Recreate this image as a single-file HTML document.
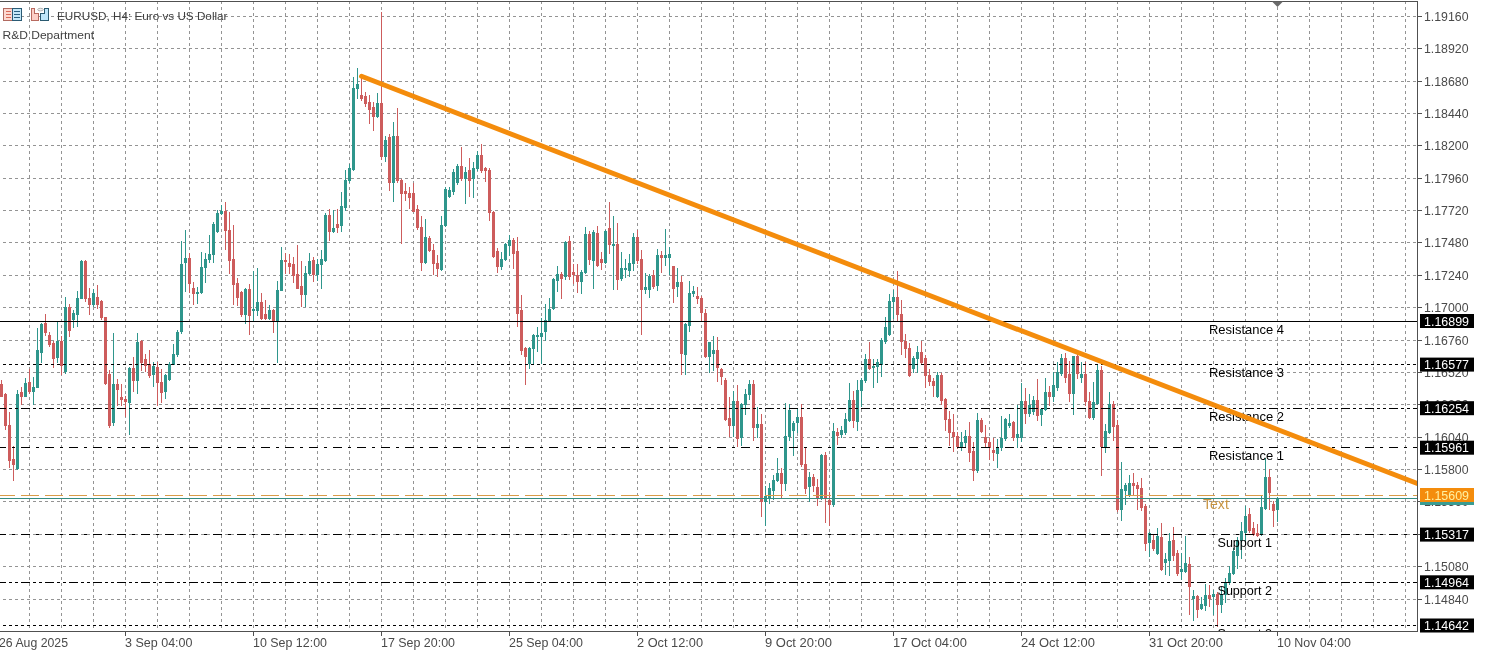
<!DOCTYPE html><html><head><meta charset="utf-8"><style>
html,body{margin:0;padding:0;background:#fff;width:1487px;height:650px;overflow:hidden}
svg{display:block;will-change:transform}
text{font-family:"Liberation Sans",sans-serif}
</style></head><body>
<svg width="1487" height="650" viewBox="0 0 1487 650">
<rect x="0" y="0" width="1487" height="650" fill="#fff"/>

<path d="M29.5 1V631 M61.5 1V631 M93.5 1V631 M125.5 1V631 M157.5 1V631 M189.5 1V631 M221.5 1V631 M253.5 1V631 M285.5 1V631 M317.5 1V631 M349.5 1V631 M381.5 1V631 M413.5 1V631 M445.5 1V631 M477.5 1V631 M509.5 1V631 M541.5 1V631 M573.5 1V631 M605.5 1V631 M637.5 1V631 M669.5 1V631 M701.5 1V631 M733.5 1V631 M765.5 1V631 M797.5 1V631 M829.5 1V631 M861.5 1V631 M893.5 1V631 M925.5 1V631 M957.5 1V631 M989.5 1V631 M1021.5 1V631 M1053.5 1V631 M1085.5 1V631 M1117.5 1V631 M1149.5 1V631 M1181.5 1V631 M1213.5 1V631 M1245.5 1V631 M1277.5 1V631 M1309.5 1V631 M1341.5 1V631 M1373.5 1V631 M1405.5 1V631" stroke="#949494" stroke-width="1" stroke-dasharray="3 3" fill="none" shape-rendering="crispEdges"/>
<path d="M0 16.5H1417 M0 48.5H1417 M0 81.5H1417 M0 113.5H1417 M0 145.5H1417 M0 178.5H1417 M0 210.5H1417 M0 242.5H1417 M0 275.5H1417 M0 307.5H1417 M0 340.5H1417 M0 372.5H1417 M0 404.5H1417 M0 437.5H1417 M0 469.5H1417 M0 501.5H1417 M0 534.5H1417 M0 566.5H1417 M0 599.5H1417" stroke="#949494" stroke-width="1" stroke-dasharray="3 3" stroke-dashoffset="3" fill="none" shape-rendering="crispEdges"/>
<path d="M17.5 390V470 M25.5 378V397 M33.5 377V405 M37.5 328V388 M41.5 323V363 M57.5 322V363 M65.5 297V374 M73.5 310V328 M77.5 291V327 M81.5 260V299 M93.5 289V307 M113.5 333V426 M129.5 367V435 M137.5 333V394 M153.5 362V387 M165.5 374V399 M169.5 362V381 M173.5 344V365 M177.5 330V357 M181.5 241V334 M185.5 230V292 M197.5 287V304 M201.5 252V294 M205.5 253V283 M209.5 235V263 M213.5 222V263 M217.5 210V233 M221.5 205V215 M245.5 288V324 M253.5 271V322 M257.5 268V316 M269.5 305V320 M277.5 281V363 M281.5 247V291 M305.5 266V307 M309.5 253V275 M317.5 259V281 M321.5 250V289 M325.5 213V262 M333.5 210V233 M341.5 192V232 M345.5 170V211 M349.5 164V183 M353.5 77V171 M357.5 68V99 M377.5 93V118 M385.5 136V162 M393.5 122V202 M425.5 219V264 M441.5 216V271 M445.5 187V227 M449.5 187V198 M453.5 169V195 M457.5 164V185 M465.5 167V204 M473.5 162V198 M477.5 151V171 M501.5 252V270 M505.5 243V261 M509.5 235V256 M529.5 347V369 M533.5 334V365 M537.5 327V352 M541.5 318V364 M545.5 304V341 M549.5 298V322 M553.5 278V310 M557.5 266V292 M565.5 241V280 M581.5 270V294 M585.5 227V274 M593.5 230V289 M605.5 230V264 M613.5 216V290 M621.5 252V281 M625.5 259V278 M629.5 254V277 M633.5 233V271 M645.5 273V294 M649.5 274V298 M657.5 249V291 M665.5 229V266 M669.5 247V275 M677.5 268V297 M685.5 323V375 M689.5 281V332 M693.5 286V297 M709.5 342V373 M713.5 336V371 M733.5 391V437 M741.5 403V446 M745.5 389V415 M749.5 380V400 M757.5 407V438 M765.5 486V526 M769.5 483V504 M773.5 475V500 M777.5 458V482 M785.5 403V491 M789.5 404V441 M793.5 421V456 M797.5 409V433 M809.5 472V502 M821.5 454V500 M833.5 423V507 M841.5 426V438 M845.5 413V435 M849.5 383V422 M857.5 380V431 M861.5 378V407 M865.5 354V383 M873.5 359V388 M877.5 359V383 M881.5 338V377 M885.5 317V344 M889.5 294V336 M893.5 290V319 M913.5 356V373 M917.5 346V373 M937.5 372V398 M961.5 432V451 M965.5 430V448 M977.5 413V473 M997.5 439V468 M1001.5 416V451 M1005.5 418V441 M1009.5 414V428 M1017.5 405V448 M1021.5 383V442 M1029.5 394V417 M1033.5 396V415 M1041.5 408V426 M1045.5 378V411 M1053.5 372V402 M1057.5 362V391 M1061.5 354V376 M1073.5 356V415 M1081.5 362V383 M1093.5 382V420 M1097.5 364V405 M1105.5 424V453 M1109.5 392V434 M1121.5 462V521 M1125.5 483V505 M1129.5 475V497 M1149.5 532V557 M1157.5 528V555 M1165.5 553V575 M1169.5 533V576 M1181.5 553V580 M1185.5 536V573 M1193.5 590V621 M1201.5 597V610 M1205.5 584V611 M1213.5 590V615 M1221.5 587V613 M1225.5 578V603 M1229.5 566V585 M1233.5 548V575 M1237.5 537V569 M1241.5 522V559 M1245.5 506V541 M1261.5 495V536 M1265.5 458V510 M1277.5 497V522" stroke="#2f968c" stroke-width="1" fill="none" shape-rendering="crispEdges"/>
<path d="M16 394h3v75h-3z M24 383h3v14h-3z M32 387h3v5h-3z M36 350h3v38h-3z M40 324h3v29h-3z M56 341h3v17h-3z M64 307h3v65h-3z M72 313h3v7h-3z M76 298h3v17h-3z M80 261h3v38h-3z M92 293h3v12h-3z M112 384h3v39h-3z M128 368h3v35h-3z M136 342h3v39h-3z M152 366h3v9h-3z M164 375h3v17h-3z M168 364h3v16h-3z M172 354h3v11h-3z M176 332h3v23h-3z M180 264h3v68h-3z M184 258h3v5h-3z M196 292h3v2h-3z M200 267h3v26h-3z M204 259h3v9h-3z M208 254h3v6h-3z M212 224h3v31h-3z M216 213h3v19h-3z M220 211h3v3h-3z M244 289h3v26h-3z M252 309h3v2h-3z M256 302h3v9h-3z M268 310h3v9h-3z M276 290h3v32h-3z M280 260h3v31h-3z M304 273h3v22h-3z M308 261h3v13h-3z M316 264h3v11h-3z M320 259h3v6h-3z M324 215h3v46h-3z M332 228h3v4h-3z M340 206h3v20h-3z M344 180h3v28h-3z M348 168h3v13h-3z M352 88h3v82h-3z M356 84h3v5h-3z M376 103h3v14h-3z M384 140h3v17h-3z M392 136h3v47h-3z M424 237h3v26h-3z M440 225h3v45h-3z M444 189h3v37h-3z M448 190h3v7h-3z M452 172h3v20h-3z M456 166h3v17h-3z M464 172h3v7h-3z M472 168h3v11h-3z M476 155h3v14h-3z M500 259h3v8h-3z M504 244h3v16h-3z M508 240h3v6h-3z M528 348h3v16h-3z M532 335h3v14h-3z M536 335h3v2h-3z M540 333h3v4h-3z M544 320h3v12h-3z M548 309h3v12h-3z M552 279h3v30h-3z M556 274h3v7h-3z M564 242h3v35h-3z M580 272h3v10h-3z M584 234h3v39h-3z M592 232h3v29h-3z M604 231h3v32h-3z M612 244h3v2h-3z M620 268h3v11h-3z M624 268h3v2h-3z M628 263h3v8h-3z M632 237h3v27h-3z M644 287h3v3h-3z M648 276h3v14h-3z M656 255h3v31h-3z M664 255h3v3h-3z M668 254h3v4h-3z M676 282h3v5h-3z M684 324h3v31h-3z M688 293h3v33h-3z M692 291h3v3h-3z M708 342h3v15h-3z M712 350h3v4h-3z M732 401h3v25h-3z M740 404h3v34h-3z M744 394h3v11h-3z M748 384h3v11h-3z M756 424h3v4h-3z M764 496h3v6h-3z M768 488h3v10h-3z M772 480h3v11h-3z M776 473h3v8h-3z M784 436h3v48h-3z M788 410h3v27h-3z M792 423h3v8h-3z M796 417h3v6h-3z M808 477h3v10h-3z M820 455h3v44h-3z M832 431h3v74h-3z M840 430h3v5h-3z M844 419h3v14h-3z M848 400h3v21h-3z M856 390h3v32h-3z M860 380h3v11h-3z M864 359h3v22h-3z M872 366h3v2h-3z M876 362h3v5h-3z M880 340h3v25h-3z M884 327h3v15h-3z M888 301h3v34h-3z M892 297h3v5h-3z M912 358h3v11h-3z M916 352h3v7h-3z M936 375h3v22h-3z M960 442h3v5h-3z M964 436h3v7h-3z M976 420h3v51h-3z M996 447h3v7h-3z M1000 438h3v10h-3z M1004 419h3v20h-3z M1008 423h3v3h-3z M1016 434h3v4h-3z M1020 401h3v37h-3z M1028 405h3v9h-3z M1032 400h3v12h-3z M1040 409h3v6h-3z M1044 392h3v18h-3z M1052 385h3v12h-3z M1056 372h3v16h-3z M1060 358h3v16h-3z M1072 356h3v38h-3z M1080 374h3v4h-3z M1092 402h3v16h-3z M1096 370h3v34h-3z M1104 431h3v16h-3z M1108 404h3v29h-3z M1120 489h3v21h-3z M1124 485h3v6h-3z M1128 483h3v13h-3z M1148 533h3v10h-3z M1156 536h3v18h-3z M1164 559h3v4h-3z M1168 541h3v20h-3z M1180 569h3v3h-3z M1184 563h3v9h-3z M1192 596h3v3h-3z M1200 604h3v5h-3z M1204 595h3v11h-3z M1212 594h3v3h-3z M1220 594h3v11h-3z M1224 582h3v13h-3z M1228 573h3v10h-3z M1232 551h3v23h-3z M1236 540h3v16h-3z M1240 531h3v10h-3z M1244 516h3v17h-3z M1260 507h3v28h-3z M1264 477h3v32h-3z M1276 498h3v12h-3z" fill="#2f968c" shape-rendering="crispEdges"/>
<path d="M1.5 380V397 M5.5 393V430 M9.5 412V468 M13.5 446V481 M21.5 387V405 M29.5 369V394 M45.5 314V336 M49.5 332V347 M53.5 341V368 M61.5 336V375 M69.5 304V337 M85.5 260V302 M89.5 288V315 M97.5 285V309 M101.5 300V320 M105.5 317V385 M109.5 370V428 M117.5 379V406 M121.5 384V406 M125.5 396V417 M133.5 357V392 M141.5 340V371 M145.5 354V372 M149.5 350V378 M157.5 362V406 M161.5 369V403 M189.5 253V293 M193.5 282V305 M225.5 202V250 M229.5 212V274 M233.5 225V305 M237.5 278V306 M241.5 291V317 M249.5 284V335 M261.5 293V320 M265.5 300V320 M273.5 309V333 M285.5 253V274 M289.5 254V274 M293.5 257V283 M297.5 245V289 M301.5 261V307 M313.5 257V282 M329.5 209V241 M337.5 209V233 M361.5 77V101 M365.5 92V107 M369.5 95V124 M373.5 102V131 M381.5 12V160 M389.5 134V191 M397.5 108V183 M401.5 179V244 M405.5 183V201 M409.5 187V209 M413.5 183V212 M417.5 205V230 M421.5 216V271 M429.5 236V252 M433.5 244V275 M437.5 255V277 M461.5 147V181 M469.5 158V197 M481.5 144V173 M485.5 167V182 M489.5 168V221 M493.5 211V258 M497.5 248V273 M513.5 238V269 M517.5 237V327 M521.5 295V355 M525.5 347V385 M561.5 272V299 M569.5 236V280 M573.5 264V284 M577.5 264V293 M589.5 231V265 M597.5 226V267 M601.5 252V270 M609.5 202V254 M617.5 223V290 M637.5 230V264 M641.5 250V335 M653.5 270V289 M661.5 251V273 M673.5 266V303 M681.5 276V375 M697.5 287V304 M701.5 296V322 M705.5 309V358 M717.5 337V382 M721.5 368V385 M725.5 378V421 M729.5 397V437 M737.5 385V447 M753.5 380V441 M761.5 414V517 M781.5 468V499 M801.5 404V467 M805.5 448V494 M813.5 474V492 M817.5 479V506 M825.5 452V523 M829.5 492V526 M837.5 428V445 M853.5 391V428 M869.5 342V370 M897.5 271V321 M901.5 300V355 M905.5 334V358 M909.5 343V377 M921.5 341V365 M925.5 355V388 M929.5 369V386 M933.5 378V397 M941.5 373V405 M945.5 398V431 M949.5 411V446 M953.5 414V452 M957.5 432V449 M969.5 422V462 M973.5 442V481 M981.5 418V433 M985.5 425V447 M989.5 438V460 M993.5 438V461 M1013.5 421V441 M1025.5 388V424 M1037.5 379V421 M1049.5 386V406 M1065.5 353V383 M1069.5 361V402 M1077.5 353V379 M1085.5 362V406 M1089.5 392V419 M1101.5 366V476 M1113.5 401V441 M1117.5 420V512 M1133.5 473V496 M1137.5 482V510 M1141.5 478V511 M1145.5 504V551 M1153.5 534V551 M1161.5 523V571 M1173.5 527V561 M1177.5 550V576 M1189.5 557V615 M1197.5 595V618 M1209.5 585V607 M1217.5 592V627 M1249.5 508V533 M1253.5 522V536 M1257.5 524V537 M1269.5 469V510 M1273.5 501V527" stroke="#cd5c5c" stroke-width="1" fill="none" shape-rendering="crispEdges"/>
<path d="M0 384h3v13h-3z M4 394h3v32h-3z M8 425h3v36h-3z M12 459h3v6h-3z M20 392h3v5h-3z M28 382h3v10h-3z M44 323h3v10h-3z M48 335h3v10h-3z M52 343h3v16h-3z M60 341h3v25h-3z M68 307h3v24h-3z M84 261h3v38h-3z M88 298h3v7h-3z M96 297h3v8h-3z M100 301h3v17h-3z M104 317h3v67h-3z M108 374h3v52h-3z M116 384h3v6h-3z M120 397h3v3h-3z M124 399h3v3h-3z M132 368h3v13h-3z M140 341h3v22h-3z M144 359h3v7h-3z M148 364h3v12h-3z M156 367h3v16h-3z M160 382h3v11h-3z M188 258h3v26h-3z M192 288h3v6h-3z M224 211h3v20h-3z M228 230h3v31h-3z M232 259h3v26h-3z M236 283h3v15h-3z M240 292h3v23h-3z M248 289h3v27h-3z M260 302h3v17h-3z M264 314h3v5h-3z M272 310h3v12h-3z M284 260h3v2h-3z M288 263h3v4h-3z M292 264h3v12h-3z M296 274h3v15h-3z M300 286h3v9h-3z M312 260h3v15h-3z M328 215h3v17h-3z M336 224h3v4h-3z M360 95h3v4h-3z M364 96h3v8h-3z M368 102h3v8h-3z M372 107h3v10h-3z M380 103h3v54h-3z M388 137h3v46h-3z M396 136h3v45h-3z M400 180h3v14h-3z M404 191h3v3h-3z M408 193h3v5h-3z M412 193h3v19h-3z M416 209h3v19h-3z M420 227h3v36h-3z M428 238h3v13h-3z M432 250h3v14h-3z M436 263h3v6h-3z M460 166h3v13h-3z M468 170h3v11h-3z M480 155h3v16h-3z M484 168h3v3h-3z M488 170h3v43h-3z M492 212h3v45h-3z M496 251h3v16h-3z M512 240h3v14h-3z M516 251h3v63h-3z M520 310h3v41h-3z M524 348h3v9h-3z M560 274h3v5h-3z M568 241h3v36h-3z M572 272h3v3h-3z M576 275h3v7h-3z M588 234h3v26h-3z M596 233h3v33h-3z M600 259h3v4h-3z M608 228h3v17h-3z M616 244h3v36h-3z M636 237h3v24h-3z M640 259h3v31h-3z M652 275h3v12h-3z M660 255h3v3h-3z M672 266h3v23h-3z M680 282h3v72h-3z M696 296h3v3h-3z M700 298h3v15h-3z M704 313h3v44h-3z M716 350h3v18h-3z M720 369h3v8h-3z M724 380h3v40h-3z M728 418h3v8h-3z M736 401h3v38h-3z M752 384h3v44h-3z M760 424h3v78h-3z M780 473h3v11h-3z M800 417h3v48h-3z M804 464h3v25h-3z M812 477h3v9h-3z M816 487h3v12h-3z M824 455h3v44h-3z M828 500h3v5h-3z M836 432h3v4h-3z M852 400h3v21h-3z M868 359h3v10h-3z M896 297h3v18h-3z M900 314h3v28h-3z M904 341h3v8h-3z M908 348h3v28h-3z M920 352h3v11h-3z M924 358h3v18h-3z M928 375h3v7h-3z M932 381h3v5h-3z M940 375h3v26h-3z M944 399h3v21h-3z M948 419h3v14h-3z M952 432h3v5h-3z M956 436h3v11h-3z M968 436h3v17h-3z M972 451h3v20h-3z M980 420h3v12h-3z M984 437h3v6h-3z M988 442h3v6h-3z M992 450h3v3h-3z M1012 422h3v16h-3z M1024 401h3v13h-3z M1036 400h3v16h-3z M1048 392h3v5h-3z M1064 358h3v20h-3z M1068 374h3v20h-3z M1076 356h3v18h-3z M1084 374h3v28h-3z M1088 401h3v17h-3z M1100 370h3v77h-3z M1112 404h3v23h-3z M1116 425h3v85h-3z M1132 483h3v3h-3z M1136 485h3v4h-3z M1140 488h3v20h-3z M1144 506h3v38h-3z M1152 540h3v9h-3z M1160 537h3v33h-3z M1172 540h3v16h-3z M1176 553h3v21h-3z M1188 564h3v23h-3z M1196 596h3v14h-3z M1208 595h3v4h-3z M1216 594h3v11h-3z M1248 514h3v17h-3z M1252 528h3v7h-3z M1256 533h3v3h-3z M1268 477h3v16h-3z M1272 504h3v7h-3z" fill="#cd5c5c" shape-rendering="crispEdges"/>
<path d="M0 321.5H1417" stroke="#000" stroke-width="1" fill="none" shape-rendering="crispEdges"/>
<path d="M0 364.5H1417" stroke="#000" stroke-width="1" fill="none" stroke-dasharray="3 3" stroke-dashoffset="3" shape-rendering="crispEdges"/>
<path d="M0 408.5H1417" stroke="#000" stroke-width="1" fill="none" stroke-dasharray="9 3 3 3 3 3" stroke-dashoffset="3" shape-rendering="crispEdges"/>
<path d="M0 447.5H1417" stroke="#000" stroke-width="1" fill="none" stroke-dasharray="9 6 3 6" stroke-dashoffset="3" shape-rendering="crispEdges"/>
<path d="M0 495.5H1417" stroke="#d89c48" stroke-width="1" fill="none" stroke-dasharray="18 6" stroke-dashoffset="3" shape-rendering="crispEdges"/>
<path d="M0 498.5H1417" stroke="#358c82" stroke-width="1" fill="none" shape-rendering="crispEdges"/>
<path d="M0 534.5H1417" stroke="#000" stroke-width="1" fill="none" stroke-dasharray="9 6 3 6" stroke-dashoffset="3" shape-rendering="crispEdges"/>
<path d="M0 582.5H1417" stroke="#000" stroke-width="1" fill="none" stroke-dasharray="9 3 3 3 3 3" stroke-dashoffset="3" shape-rendering="crispEdges"/>
<path d="M0 625.5H1417" stroke="#000" stroke-width="1" fill="none" stroke-dasharray="3 3" stroke-dashoffset="3" shape-rendering="crispEdges"/>
<text x="1209" y="334" font-size="13" fill="#000" textLength="75" lengthAdjust="spacingAndGlyphs">Resistance 4</text>
<text x="1209" y="377" font-size="13" fill="#000" textLength="75" lengthAdjust="spacingAndGlyphs">Resistance 3</text>
<text x="1209" y="421" font-size="13" fill="#000" textLength="75" lengthAdjust="spacingAndGlyphs">Resistance 2</text>
<text x="1209" y="460" font-size="13" fill="#000" textLength="75" lengthAdjust="spacingAndGlyphs">Resistance 1</text>
<text x="1203" y="508.8" font-size="14.5" fill="#c89440" textLength="25.8" lengthAdjust="spacingAndGlyphs">Text</text>
<text x="1217.5" y="547" font-size="13" fill="#000" textLength="54.5" lengthAdjust="spacingAndGlyphs">Support 1</text>
<text x="1217.5" y="595" font-size="13" fill="#000" textLength="54.5" lengthAdjust="spacingAndGlyphs">Support 2</text>
<text x="1217.5" y="637.6" font-size="13" fill="#000" textLength="54.5" lengthAdjust="spacingAndGlyphs">Support 3</text>
<defs><clipPath id="cp"><rect x="0" y="1" width="1417" height="630"/></clipPath></defs>
<line x1="361.5" y1="76.3" x2="1500" y2="515.41" stroke="#f48c0c" stroke-width="4.9" stroke-linecap="round" clip-path="url(#cp)"/>
<rect x="1418" y="632" width="69" height="18" fill="#fff"/>
<rect x="0" y="632" width="1487" height="18" fill="#fff"/>
<rect x="1418" y="0" width="69" height="650" fill="#fff"/>
<path d="M0 1.5H1417.5V631.5H0" stroke="#505050" stroke-width="1" fill="none" shape-rendering="crispEdges"/>
<path d="M1272 1.5L1283 1.5L1277.5 7z" fill="#6a6a6a"/>
<text x="1424" y="20.5" font-size="12" fill="#4a4a4a" textLength="44.5" lengthAdjust="spacingAndGlyphs">1.19160</text>
<text x="1424" y="52.5" font-size="12" fill="#4a4a4a" textLength="44.5" lengthAdjust="spacingAndGlyphs">1.18920</text>
<text x="1424" y="85.5" font-size="12" fill="#4a4a4a" textLength="44.5" lengthAdjust="spacingAndGlyphs">1.18680</text>
<text x="1424" y="117.5" font-size="12" fill="#4a4a4a" textLength="44.5" lengthAdjust="spacingAndGlyphs">1.18440</text>
<text x="1424" y="149.5" font-size="12" fill="#4a4a4a" textLength="44.5" lengthAdjust="spacingAndGlyphs">1.18200</text>
<text x="1424" y="182.5" font-size="12" fill="#4a4a4a" textLength="44.5" lengthAdjust="spacingAndGlyphs">1.17960</text>
<text x="1424" y="214.5" font-size="12" fill="#4a4a4a" textLength="44.5" lengthAdjust="spacingAndGlyphs">1.17720</text>
<text x="1424" y="246.5" font-size="12" fill="#4a4a4a" textLength="44.5" lengthAdjust="spacingAndGlyphs">1.17480</text>
<text x="1424" y="279.5" font-size="12" fill="#4a4a4a" textLength="44.5" lengthAdjust="spacingAndGlyphs">1.17240</text>
<text x="1424" y="311.5" font-size="12" fill="#4a4a4a" textLength="44.5" lengthAdjust="spacingAndGlyphs">1.17000</text>
<text x="1424" y="344.5" font-size="12" fill="#4a4a4a" textLength="44.5" lengthAdjust="spacingAndGlyphs">1.16760</text>
<text x="1424" y="376.5" font-size="12" fill="#4a4a4a" textLength="44.5" lengthAdjust="spacingAndGlyphs">1.16520</text>
<text x="1424" y="408.5" font-size="12" fill="#4a4a4a" textLength="44.5" lengthAdjust="spacingAndGlyphs">1.16280</text>
<text x="1424" y="441.5" font-size="12" fill="#4a4a4a" textLength="44.5" lengthAdjust="spacingAndGlyphs">1.16040</text>
<text x="1424" y="473.5" font-size="12" fill="#4a4a4a" textLength="44.5" lengthAdjust="spacingAndGlyphs">1.15800</text>
<text x="1424" y="505.5" font-size="12" fill="#4a4a4a" textLength="44.5" lengthAdjust="spacingAndGlyphs">1.15560</text>
<text x="1424" y="538.5" font-size="12" fill="#4a4a4a" textLength="44.5" lengthAdjust="spacingAndGlyphs">1.15320</text>
<text x="1424" y="570.5" font-size="12" fill="#4a4a4a" textLength="44.5" lengthAdjust="spacingAndGlyphs">1.15080</text>
<text x="1424" y="603.5" font-size="12" fill="#4a4a4a" textLength="44.5" lengthAdjust="spacingAndGlyphs">1.14840</text>
<path d="M1418 16.5H1422 M1418 48.5H1422 M1418 81.5H1422 M1418 113.5H1422 M1418 145.5H1422 M1418 178.5H1422 M1418 210.5H1422 M1418 242.5H1422 M1418 275.5H1422 M1418 307.5H1422 M1418 340.5H1422 M1418 372.5H1422 M1418 404.5H1422 M1418 437.5H1422 M1418 469.5H1422 M1418 501.5H1422 M1418 534.5H1422 M1418 566.5H1422 M1418 599.5H1422" stroke="#505050" stroke-width="1" shape-rendering="crispEdges"/>
<text x="-1" y="647" font-size="12" fill="#4a4a4a" textLength="69" lengthAdjust="spacingAndGlyphs">26 Aug 2025</text>
<text x="125" y="647" font-size="12" fill="#4a4a4a" textLength="67.5" lengthAdjust="spacingAndGlyphs">3 Sep 04:00</text>
<text x="253" y="647" font-size="12" fill="#4a4a4a" textLength="74" lengthAdjust="spacingAndGlyphs">10 Sep 12:00</text>
<text x="381" y="647" font-size="12" fill="#4a4a4a" textLength="74" lengthAdjust="spacingAndGlyphs">17 Sep 20:00</text>
<text x="509" y="647" font-size="12" fill="#4a4a4a" textLength="74" lengthAdjust="spacingAndGlyphs">25 Sep 04:00</text>
<text x="637" y="647" font-size="12" fill="#4a4a4a" textLength="66" lengthAdjust="spacingAndGlyphs">2 Oct 12:00</text>
<text x="765" y="647" font-size="12" fill="#4a4a4a" textLength="67" lengthAdjust="spacingAndGlyphs">9 Oct 20:00</text>
<text x="893" y="647" font-size="12" fill="#4a4a4a" textLength="74" lengthAdjust="spacingAndGlyphs">17 Oct 04:00</text>
<text x="1021" y="647" font-size="12" fill="#4a4a4a" textLength="74" lengthAdjust="spacingAndGlyphs">24 Oct 12:00</text>
<text x="1149" y="647" font-size="12" fill="#4a4a4a" textLength="74" lengthAdjust="spacingAndGlyphs">31 Oct 20:00</text>
<text x="1277" y="647" font-size="12" fill="#4a4a4a" textLength="74" lengthAdjust="spacingAndGlyphs">10 Nov 04:00</text>
<path d="M125.5 632V636 M253.5 632V636 M381.5 632V636 M509.5 632V636 M637.5 632V636 M765.5 632V636 M893.5 632V636 M1021.5 632V636 M1149.5 632V636 M1277.5 632V636" stroke="#505050" stroke-width="1" shape-rendering="crispEdges"/>
<rect x="1420" y="314" width="54" height="14" fill="#000"/>
<text x="1424" y="325.5" font-size="12" fill="#fff" textLength="45" lengthAdjust="spacingAndGlyphs">1.16899</text>
<rect x="1420" y="357.6" width="54" height="14" fill="#000"/>
<text x="1424" y="369.1" font-size="12" fill="#fff" textLength="45" lengthAdjust="spacingAndGlyphs">1.16577</text>
<rect x="1420" y="401.2" width="54" height="14" fill="#000"/>
<text x="1424" y="412.7" font-size="12" fill="#fff" textLength="45" lengthAdjust="spacingAndGlyphs">1.16254</text>
<rect x="1420" y="440.7" width="54" height="14" fill="#000"/>
<text x="1424" y="452.2" font-size="12" fill="#fff" textLength="45" lengthAdjust="spacingAndGlyphs">1.15961</text>
<rect x="1420" y="491" width="54" height="14" fill="#3a9c92"/>
<rect x="1420" y="488" width="54" height="14" fill="#f48c0c"/>
<text x="1424" y="499.5" font-size="12" fill="#fff0a0" textLength="45" lengthAdjust="spacingAndGlyphs">1.15609</text>
<rect x="1420" y="527.6" width="54" height="14" fill="#000"/>
<text x="1424" y="539.1" font-size="12" fill="#fff" textLength="45" lengthAdjust="spacingAndGlyphs">1.15317</text>
<rect x="1420" y="575.3" width="54" height="14" fill="#000"/>
<text x="1424" y="586.8" font-size="12" fill="#fff" textLength="45" lengthAdjust="spacingAndGlyphs">1.14964</text>
<rect x="1420" y="618.5" width="54" height="14" fill="#000"/>
<text x="1424" y="630.0" font-size="12" fill="#fff" textLength="45" lengthAdjust="spacingAndGlyphs">1.14642</text>
<g shape-rendering="crispEdges">
<rect x="3.5" y="8.5" width="18" height="12" fill="#fcd8d0" stroke="#b06a60"/>
<rect x="12.5" y="8.5" width="9" height="12" fill="#c4e8f8" stroke="#2a5a74"/>
<path d="M6 11.5h5M6 14.5h5M6 17.5h5" stroke="#d86a58"/>
<path d="M14 11.5h6M14 14.5h6M14 17.5h6" stroke="#2a6080"/>
<path d="M31.5 20.5V8.5h3v5h4v7z" fill="#fcd0c8" stroke="#b86a60"/>
<path d="M40.5 20.5V13.5h4v-5h4v12z" fill="#bfe6fa" stroke="#2a5a70"/>
</g>
<ellipse cx="40.5" cy="9.6" rx="2.8" ry="1.3" fill="#f0f0f0" stroke="#a0a0a0" stroke-width="0.8"/>
<text x="57" y="19.8" font-size="11" fill="#404040" textLength="170.5" lengthAdjust="spacingAndGlyphs">EURUSD, H4:  Euro vs US Dollar</text>
<text x="2.5" y="38.8" font-size="11" fill="#404040" textLength="91.5" lengthAdjust="spacingAndGlyphs">R&amp;D Department</text>
</svg></body></html>
